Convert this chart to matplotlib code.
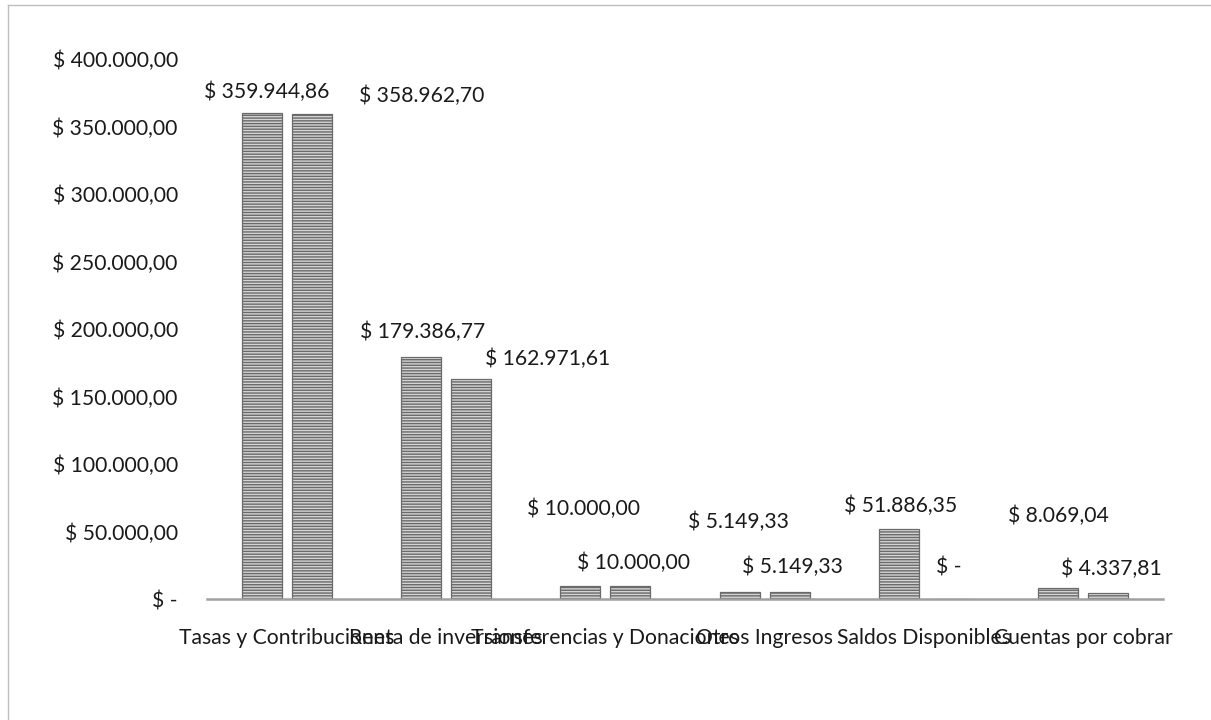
import matplotlib
matplotlib.use("Agg")
import matplotlib.pyplot as plt
from matplotlib.lines import Line2D
import numpy as np

categories = ["Tasas y Contribuciones", "Renta de inversiones", "Transferencias y Donaciones",
              "Otros Ingresos", "Saldos Disponibles", "Cuentas por cobrar"]
serie_1 = [359944.86, 179386.77, 10000.00, 5149.33, 51886.35, 8069.04]
serie_2 = [358962.70, 162971.61, 10000.00, 5149.33, 0.00, 4337.81]
y_ticks = [0, 50000, 100000, 150000, 200000, 250000, 300000, 350000, 400000]

# label placement (layout only): horizontal shift in category units, vertical anchor in data units
lab1_dx = [0.03, 0.01, 0.02, -0.01, 0.01, 0.0]
lab1_y = [376000, 197500, 66500, 57000, 68800, 61500]
lab2_dx = [0.69, 0.48, 0.02, 0.02, 0.0, 0.02]
lab2_y = [372500, 177800, 27000, 23700, 23000, 22000]

plt.rcParams['font.family'] = ['Lato', 'DejaVu Sans']
plt.rcParams['hatch.linewidth'] = 1.0
plt.rcParams['hatch.color'] = '#5a5a5a'


def money(v):
    if v == 0:
        return "$ -"
    s = f"{v:,.2f}"
    s = s.replace(",", "X").replace(".", ",").replace("X", ".")
    return "$ " + s


fig = plt.figure(figsize=(12.11, 7.2), dpi=100)
ax = fig.add_axes([207 / 1211, 1 - 599 / 720, 956 / 1211, 540 / 720])

x = np.arange(len(categories))
bw = 0.252
off = 0.157
b1 = ax.bar(x - off, serie_1, width=bw, color='#d4d4d4', edgecolor='#6a6a6a',
            linewidth=0.9, hatch='------')
b2 = ax.bar(x + off, serie_2, width=bw, color='#d4d4d4', edgecolor='#6a6a6a',
            linewidth=0.9, hatch='------')

fs = 15.2
for i in range(len(categories)):
    ax.text(x[i] - off + lab1_dx[i], lab1_y[i], money(serie_1[i]), ha='center', va='center',
            fontsize=fs, color='#1a1a1a')
    ax.text(x[i] + off + lab2_dx[i], lab2_y[i], money(serie_2[i]), ha='center', va='center',
            fontsize=fs, color='#1a1a1a')

ax.set_xlim(-0.5, len(categories) - 0.5)
ax.set_ylim(0, 400000)
ax.set_yticks(y_ticks)
ax.set_yticklabels([money(v) for v in y_ticks], fontsize=fs, color='#1a1a1a')
ax.set_xticks(x)
ax.set_xticklabels(categories, fontsize=fs, color='#1a1a1a')
ax.tick_params(axis='y', length=0, pad=21)
ax.tick_params(axis='x', length=0, pad=21)
for s in ['left', 'right', 'top']:
    ax.spines[s].set_visible(False)
ax.spines['bottom'].set_color('#a0a0a0')
ax.spines['bottom'].set_linewidth(1.8)
ax.set_facecolor('none')

# outer chart frame (top and left edges visible in the scan)
fig.add_artist(Line2D([8 / 1211, 1.0], [1 - 5 / 720, 1 - 5 / 720], transform=fig.transFigure,
                      color='#bdbdbd', linewidth=1))
fig.add_artist(Line2D([8 / 1211, 8 / 1211], [0.0, 1 - 5 / 720], transform=fig.transFigure,
                      color='#bdbdbd', linewidth=1))

fig.savefig("out.png", dpi=100)
